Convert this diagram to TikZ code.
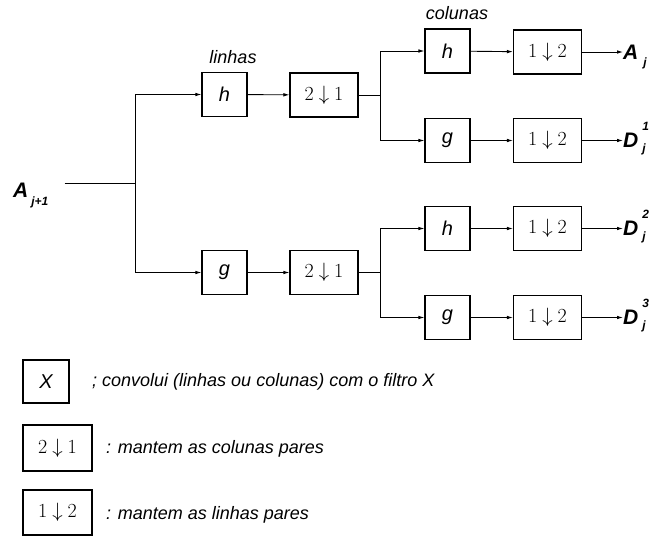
\documentclass[tikz,border=0pt]{standalone}
\usepackage{fontspec}
\newfontfamily\lsans{Liberation Sans}
\usetikzlibrary{arrows.meta,calc}
\newcommand{\dn}[2]{#1\hspace{5pt}$\downarrow$\hspace{5pt}#2}
\newcommand{\outsub}[3]{#1\smash{\rlap{\hspace{4pt}\fontsize{12}{12}\selectfont\makebox[0pt][l]{\raisebox{17pt}{#2}}\raisebox{-5pt}{#3}}}}
\tikzset{
  x=1pt, y=-1pt,
  blk/.style={draw, line width=1.1pt, minimum width=45pt, minimum height=44pt, inner sep=0pt,
    font=\lsans\itshape\fontsize{20}{20}\selectfont},
  dec/.style={blk, minimum width=68pt, font=\fontsize{20}{20}\selectfont},
  conn/.style={line width=0.9pt},
  arr/.style={conn, -{Latex[length=6pt,width=3.6pt]}},
  lbl/.style={inner sep=0pt, font=\lsans\itshape\fontsize{18}{18}\selectfont},
  outl/.style={anchor=west, inner sep=0pt, font=\lsans\bfseries\itshape\fontsize{21}{21}\selectfont},
}
\begin{document}
\begin{tikzpicture}
\useasboundingbox (0,0) rectangle (657,539);

% input
\node[outl] (Ain) at (13,190) {A\smash{\rlap{\hspace{3pt}\fontsize{12}{12}\selectfont\raisebox{-8pt}{j+1}}}};
\coordinate (j0) at (135,183);

% row filters
\node[blk] (h1) at (224.5,94.5) {h};
\node[blk] (g1) at (224.5,272.5) {g};
\node[dec] (d1) at (324,95) {\dn{2}{1}};
\node[dec] (d2) at (324,272.5) {\dn{2}{1}};
\node[lbl] (tl) at (233,57) {linhas};

\coordinate (j1) at ($(d1.east)+(22,0)$);
\coordinate (j2) at ($(d2.east)+(22,0)$);

% column filters
\node[blk] (hA) at (447.5,51) {h};
\node[blk] (gB) at (447.5,140.5) {g};
\node[blk] (hC) at (447.5,228.5) {h};
\node[blk] (gD) at (447.5,317.5) {g};
\node[dec] (cA) at (547.5,52) {\dn{1}{2}};
\node[dec] (cB) at (547.5,140.5) {\dn{1}{2}};
\node[dec] (cC) at (547.5,228.5) {\dn{1}{2}};
\node[dec] (cD) at (547.5,317.5) {\dn{1}{2}};
\node[lbl] (tc) at (457,13) {colunas};

% outputs
\node[outl] (oA) at (623,52) {A\smash{\rlap{\hspace{5pt}\fontsize{12}{12}\selectfont\raisebox{-7pt}{j}}}};
\node[outl] (oB) at (623,140.5) {\outsub{D}{1}{j}};
\node[outl] (oC) at (623,228.5) {\outsub{D}{2}{j}};
\node[outl] (oD) at (623,317.5) {\outsub{D}{3}{j}};

% connectors
\draw[conn] ([xshift=36pt]Ain.east |- j0) -- (j0);
\draw[arr] (j0) |- (h1);
\draw[arr] (j0) |- (g1);
\draw[arr] (h1) -- (d1);
\draw[arr] (g1) -- (d2);
\draw[conn] (d1) -- (j1);
\draw[conn] (d2) -- (j2);
\draw[arr] (j1) |- (hA);
\draw[arr] (j1) |- (gB);
\draw[arr] (j2) |- (hC);
\draw[arr] (j2) |- (gD);
\draw[arr] (hA) -- (cA);
\draw[arr] (gB) -- (cB);
\draw[arr] (hC) -- (cC);
\draw[arr] (gD) -- (cD);
\draw[arr] (cA) -- (oA);
\draw[arr] (cB) -- (oB);
\draw[arr] (cC) -- (oC);
\draw[arr] (cD) -- (oD);

% legend
\node[blk, minimum width=46pt, minimum height=43pt] (lX) at (46,381.5) {X};
\node[dec, minimum width=69pt, minimum height=46pt] (l21) at (57.5,448) {\dn{2}{1}};
\node[dec, minimum width=69pt, minimum height=45pt] (l12) at (57.5,512.5) {\dn{1}{2}};
\node[lbl, anchor=west] (tX) at (92,382) {; convolui (linhas ou colunas) com o filtro X};
\node[lbl, anchor=west] (t21) at (106,449) {: mantem as colunas pares};
\node[lbl, anchor=west] (t12) at (106,515) {: mantem as linhas pares};
\end{tikzpicture}
\end{document}
